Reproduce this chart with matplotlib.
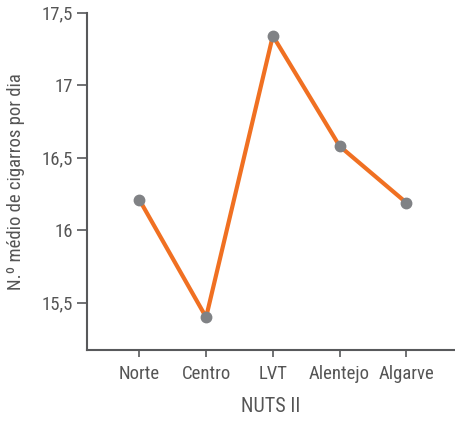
import matplotlib
matplotlib.use('Agg')
import matplotlib.pyplot as plt
from matplotlib.ticker import FuncFormatter

# data
regions = ['Norte', 'Centro', 'LVT', 'Alentejo', 'Algarve']
cigarros = [16.21, 15.40, 17.34, 16.58, 16.19]
yticks = [15.5, 16, 16.5, 17, 17.5]

# colours
orange = '#F07022'
grey = '#808285'
axisGrey = '#58595B'
textGrey = '#555555'

plt.rcParams['font.family'] = ['Roboto Condensed', 'DejaVu Sans']


def fmt(v, pos):
    return ('%g' % v).replace('.', ',')


def main():
    fig = plt.figure(figsize=(4.55, 4.21), dpi=100)
    ax = fig.add_axes([0.1912, 0.1686, 0.8088, 0.8014])

    x = list(range(len(regions)))
    ax.plot(x, cigarros, color=orange, lw=3, zorder=2, solid_capstyle='round')
    ax.plot(x, cigarros, 'o', color=grey, ms=7.5, zorder=3)

    ax.set_xlim(-0.785, 4.73)
    ax.set_ylim(15.174, 17.5)
    ax.set_xticks(x)
    ax.set_xticklabels(regions)
    ax.set_yticks(yticks)
    ax.yaxis.set_major_formatter(FuncFormatter(fmt))

    for side in ['top', 'right']:
        ax.spines[side].set_visible(False)
    for side in ['left', 'bottom']:
        ax.spines[side].set_color(axisGrey)
        ax.spines[side].set_linewidth(1.5)

    ax.tick_params(axis='y', length=7, width=1.2, color=axisGrey,
                   labelcolor=textGrey, labelsize=13.5, pad=3)
    ax.tick_params(axis='x', length=5, width=1.2, color=axisGrey,
                   labelcolor=textGrey, labelsize=13.5, pad=6)

    ax.set_xlabel('NUTS II', fontsize=14.5, color=textGrey, labelpad=10)
    ax.set_ylabel('N.º médio de cigarros por dia', fontsize=13.5,
                  color=textGrey, labelpad=12)

    fig.savefig('out.png', dpi=100)


if __name__ == '__main__':
    main()
